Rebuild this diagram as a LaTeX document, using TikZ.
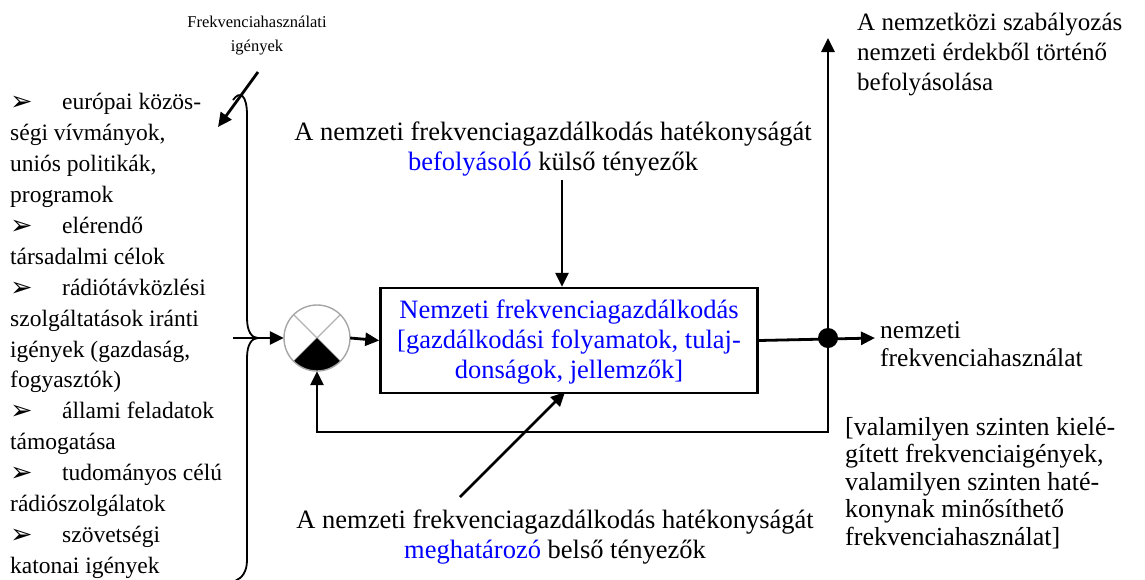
\documentclass[tikz,border=0pt]{standalone}
\usepackage{fontspec}
\setmainfont{Liberation Serif}
\newfontfamily\dejavu{DejaVu Sans}
\usetikzlibrary{arrows.meta}
\definecolor{tblue}{RGB}{0,0,255}
\newcommand{\bul}{\makebox[52pt][l]{\raisebox{-1pt}{\fontsize{27}{30}\dejavu ➢}}}
\begin{document}
\begin{tikzpicture}[x=1pt,y=-1pt,
  txt/.style={inner sep=0pt, font=\fontsize{26.5}{30}\selectfont},
  arr/.style={line width=2.8pt, -{Triangle[length=14pt,width=13pt]}},
  brace/.style={line width=1.8pt}]
\useasboundingbox (0,0) rectangle (1145,579);

% texts
\node[inner sep=0pt, font=\fontsize{16.5}{24}\selectfont, align=center, anchor=north] (fl) at (257,10) {\strut Frekvenciahasználati\\igények};
\node[inner sep=0pt, font=\fontsize{23.5}{30.9}\selectfont, align=left, anchor=north west] (list) at (10,88) {\strut\bul európai közös-\\ségi vívmányok,\\uniós politikák,\\programok\\\bul elérendő\\társadalmi célok\\\bul rádiótávközlési\\szolgáltatások iránti\\igények (gazdaság,\\fogyasztók)\\\bul állami feladatok\\támogatása\\\bul tudományos célú\\rádiószolgálatok\\\bul szövetségi\\katonai igények};
\node[txt, align=center, anchor=north] (ext) at (553,119) {\strut A nemzeti frekvenciagazdálkodás hatékonyságát\\\textcolor{tblue}{befolyásoló} külső tényezők};
\node[txt, align=center, anchor=north] (int) at (555,507) {\strut A nemzeti frekvenciagazdálkodás hatékonyságát\\\textcolor{tblue}{meghatározó} belső tényezők};
\node[inner sep=0pt, font=\fontsize{25}{30}\selectfont, align=left, anchor=north west] (intl) at (857,9) {\strut A nemzetközi szabályozás\\nemzeti érdekből történő\\befolyásolása};
\node[inner sep=0pt, font=\fontsize{25.5}{28}\selectfont, align=left, anchor=north west] (nfh) at (880,319) {\strut nemzeti\\frekvenciahasználat};
\node[inner sep=0pt, font=\fontsize{26}{27.5}\selectfont, align=left, anchor=north west] (kiel) at (845,416) {\strut [valamilyen szinten kielé-\\gített frekvenciaigények,\\valamilyen szinten haté-\\konynak minősíthető\\frekvenciahasználat]};

% main box
\node[draw, line width=2.5pt, minimum width=377pt, minimum height=105pt, txt, align=center, text=tblue] (box) at (569,340.5) {\strut Nemzeti frekvenciagazdálkodás\\{[}gazdálkodási folyamatok, tulaj-\\donságok, jellemzők]};

% summing junction
\node[circle, minimum size=66pt, inner sep=0pt] (sum) at (317,338) {};
\draw[gray!60, line width=1.2pt] (sum.45) -- (sum.225) (sum.135) -- (sum.315);
\begin{scope}
  \clip (sum.center) circle (33pt);
  \fill (sum.center) -- ++(-60,60) -- ++(120,0) -- cycle;
\end{scope}
\draw[gray!70, line width=1.4pt] (sum.center) circle (33pt);

% branch dot
\node[circle, fill, minimum size=20pt, inner sep=0pt] (dot) at (828,338) {};

% coordinates
\coordinate (flA) at (258,72);
\coordinate (flB) at (218,127);
\coordinate (inL) at (233,338);
\coordinate (extA) at (562,180);
\coordinate (intA) at (460,497);
\coordinate (intB) at (565,392);
\coordinate (out) at (875,338);
\coordinate (up) at (828,38);
\coordinate (fbR) at (828,432);
\coordinate (fbL) at (317,432);

% brace
\draw[brace] (233,100) .. controls (240,90) and (247,95) .. (247,115) -- (247,318)
  .. controls (247,332) and (252,338) .. (258,338)
  .. controls (252,338) and (247,344) .. (247,358) -- (247,560)
  .. controls (247,572) and (242,578) .. (235,581);

% connectors
\draw[arr] (flA) -- (flB);
\draw[arr] (inL) -- (sum.west);
\draw[arr] (sum.east) -- (box.west);
\draw[arr] (extA) -- (extA |- box.north);
\draw[arr] (intA) -- (intB);
\draw[arr] (box.east) -- (out);
\draw[line width=2.8pt, {Triangle[length=14pt,width=13pt]}-{Triangle[length=14pt,width=13pt]}] (up) -- (fbR) -- (fbL) -- (sum.south);
\end{tikzpicture}
\end{document}
